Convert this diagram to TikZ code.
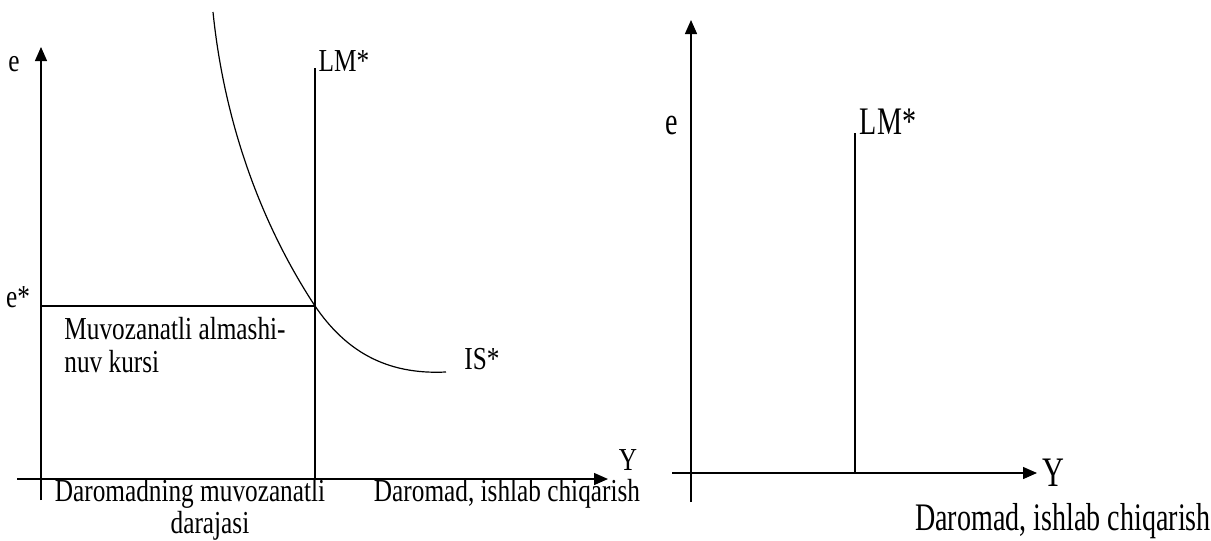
\documentclass[tikz,border=0pt]{standalone}
\usepackage{fontspec}
\setmainfont{Liberation Serif}
\newfontfamily\leftfont[FakeStretch=0.79]{Liberation Serif}
\newfontfamily\rightfont[FakeStretch=0.72]{Liberation Serif}
\usepackage{tikz}
\usetikzlibrary{arrows.meta,positioning}
\tikzset{
  axis/.style={line width=0.7pt,-{Triangle[length=7pt,width=6pt]}},
  curveline/.style={line width=0.6pt},
  ltext/.style={inner sep=0pt,font=\leftfont\fontsize{16}{16.5}\selectfont},
  rtext/.style={inner sep=0pt,font=\rightfont\fontsize{19.5}{21}\selectfont}
}

\begin{document}
\begin{tikzpicture}[x=0.5pt,y=-0.5pt]
  % pixel grid of the page, y runs downwards
  \useasboundingbox (0,0) rectangle (1211,541);
  \def\xaxisy{479}
  \def\lmleft{315}
  \def\lmright{855}

  % Left panel: IS*-LM* equilibrium
  \coordinate (lorigin) at (41,\xaxisy);
  \draw[axis] (41,500) -- (41,47);
  \draw[axis] (17,\xaxisy) -- (608,\xaxisy);
  \coordinate (eq) at (\lmleft,306);
  \draw[curveline] (\lmleft,\xaxisy) -- (\lmleft,68);
  \draw[curveline] (41,306) -- (eq);
  \draw[curveline] (213,12) .. controls (225,130) and (265,230) .. (eq)
    .. controls (345,350) and (385,375) .. (446,372);

  \node[ltext] (le) at (14,64) {e};
  \node[ltext] (llm) at (344,61) {LM*};
  \node[ltext] (lestar) at (18,297) {e*};
  \node[ltext] (lis) at (482,359) {IS*};
  \node[ltext] (ly) at (628,460) {Y};
  \node[ltext,align=left] (rate) at (175,345) {Muvozanatli almashi-\\nuv kursi};
  \node[ltext] (level) at (190,494) {Daromadning muvozanatli};
  \node[ltext] (level2) at (210,526) {darajasi};
  \node[ltext] (lincome) at (507,494) {Daromad, ishlab chiqarish};

  % Right panel: LM* alone
  \draw[axis] (691,502) -- (691,20);
  \draw[axis] (672,473) -- (1037,473);
  \draw[curveline] (\lmright,473) -- (\lmright,133);

  \node[rtext] (re) at (672,125) {e};
  \node[rtext] (rlm) at (888,122) {LM*};
  \node[rtext,font=\rightfont\fontsize{21}{23}\selectfont] (ry) at (1053,473) {Y};
  \node[rtext] (rincome) at (1063,521) {Daromad, ishlab chiqarish};
\end{tikzpicture}
\end{document}
